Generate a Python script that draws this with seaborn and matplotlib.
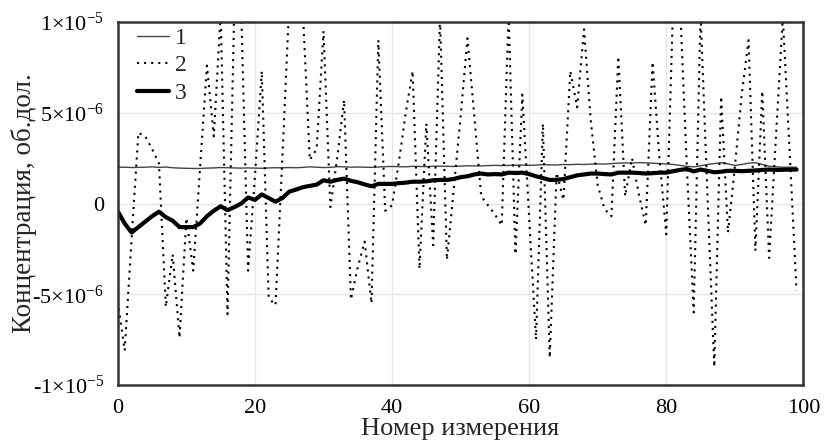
import numpy as np
import pandas as pd
import matplotlib
matplotlib.use("Agg")
import matplotlib.pyplot as plt
import seaborn as sns

# ---- data (values in units of 1e-6) ----
idx = list(range(100))
series1 = [2.00, 2.00, 1.98, 1.99, 2.00, 2.02, 1.99, 2.01, 1.97, 1.95,
           1.94, 1.93, 1.93, 1.95, 1.96, 1.98, 1.97, 1.96, 1.95, 1.96,
           1.95, 1.94, 1.96, 1.97, 1.97, 1.98, 1.97, 1.99, 2.02, 2.00,
           1.98, 1.99, 2.03, 2.02, 2.00, 2.01, 2.00, 1.99, 2.01, 2.03,
           2.04, 2.03, 2.02, 2.05, 2.04, 2.03, 2.05, 2.06, 2.05, 2.04,
           2.06, 2.08, 2.07, 2.07, 2.09, 2.10, 2.09, 2.10, 2.11, 2.12,
           2.10, 2.12, 2.14, 2.13, 2.12, 2.15, 2.14, 2.16, 2.15, 2.17,
           2.18, 2.17, 2.20, 2.22, 2.24, 2.23, 2.25, 2.24, 2.22, 2.20,
           2.18, 2.15, 2.10, 2.05, 2.02, 2.08, 2.15, 2.20, 2.25, 2.18,
           2.10, 2.15, 2.22, 2.25, 2.15, 2.05, 2.02, 2.00, 2.00, 2.00]
series2 = [-5.4, -8.1, -2.0, 3.9, 3.7, 3.0, 2.2, -5.7, -2.8, -7.4,
           -0.8, -3.7, 2.0, 7.6, 3.7, 10.5, -6.1, 11.0, 10.6, -3.7,
           1.5, 7.3, -5.2, -5.6, 2.5, 11.0, 12.0, 10.5, 2.4, 3.0,
           9.5, -0.2, 2.5, 5.7, -5.3, -3.5, -2.1, -5.5, 9.0, -0.4,
           -0.1, 2.3, 5.0, 7.3, -3.6, 4.4, -2.3, 10.3, -3.1, 0.8,
           4.8, 9.1, 4.8, 0.4, -0.1, -0.6, -1.2, 10.5, -2.8, 6.0,
           -0.8, -7.5, 4.4, -8.5, 1.7, 0.2, 7.3, 5.3, 9.6, 4.5,
           1.0, -0.3, -0.7, 8.1, 0.4, 2.5, 0.5, -1.2, 7.8, 2.5,
           -1.7, 11.0, 11.0, 2.0, -6.0, 10.5, 0.5, -9.0, 5.9, -1.6,
           2.0, 6.0, 9.0, -2.6, 6.2, -3.0, 3.7, 10.3, 2.8, -4.8]
series3 = [-0.44, -1.1, -1.6, -1.3, -1.0, -0.7, -0.45, -0.75, -0.95, -1.3,
           -1.3, -1.3, -1.1, -0.7, -0.4, -0.15, -0.37, -0.2, 0.0, 0.33,
           0.2, 0.5, 0.3, 0.1, 0.3, 0.65, 0.77, 0.9, 0.97, 1.04,
           1.28, 1.2, 1.3, 1.37, 1.25, 1.17, 1.05, 0.95, 1.08, 1.08,
           1.08, 1.12, 1.15, 1.2, 1.2, 1.22, 1.28, 1.3, 1.3, 1.35,
           1.45, 1.5, 1.6, 1.65, 1.6, 1.62, 1.6, 1.7, 1.68, 1.7,
           1.62, 1.5, 1.4, 1.3, 1.3, 1.35, 1.45, 1.55, 1.6, 1.65,
           1.65, 1.62, 1.6, 1.7, 1.7, 1.7, 1.68, 1.65, 1.67, 1.7,
           1.7, 1.78, 1.85, 1.9, 1.77, 1.87, 1.8, 1.72, 1.75, 1.8,
           1.8, 1.78, 1.8, 1.82, 1.85, 1.87, 1.85, 1.86, 1.87, 1.87]
series_labels = ["1", "2", "3"]
x_ticks = [0, 20, 40, 60, 80, 100]
y_ticks = [-1e-5, -5e-6, 0, 5e-6, 1e-5]
y_tick_labels = [r"-1×10$^{-5}$", r"-5×10$^{-6}$", "0", r"5×10$^{-6}$", r"1×10$^{-5}$"]
x_label = "Номер измерения"
y_label = "Концентрация, об.дол."

SCALE = 1e-6

sns.set_theme(style="whitegrid")
plt.rcParams["font.family"] = ["Liberation Serif", "DejaVu Serif"]
plt.rcParams["mathtext.fontset"] = "custom"
plt.rcParams["mathtext.rm"] = "Liberation Serif"
plt.rcParams["mathtext.it"] = "Liberation Serif"
plt.rcParams["mathtext.default"] = "regular"

fig = plt.figure(figsize=(8.24, 4.40), dpi=100)
ax = fig.add_axes([0.143, 0.125, 0.832, 0.825])

styles = [
    dict(color="#444444", linewidth=1.0, linestyle="-"),
    dict(color="black", linewidth=1.5, linestyle=(0, (1, 2.4))),
    dict(color="black", linewidth=3.0, linestyle="-"),
]
for vals, lab, st in zip([series1, series2, series3], series_labels, styles):
    df = pd.DataFrame({"x": idx, "y": np.array(vals) * SCALE})
    sns.lineplot(data=df, x="x", y="y", ax=ax, label=lab, **st)

ax.set_xlim(0, 100)
ax.set_ylim(-1e-5, 1e-5)
ax.set_xticks(x_ticks)
ax.set_xticklabels([str(t) for t in x_ticks])
ax.set_yticks(y_ticks)
ax.set_yticklabels(y_tick_labels)
ax.tick_params(axis="both", labelsize=16, length=0, colors="black")
ax.tick_params(axis="x", pad=10)
ax.tick_params(axis="y", pad=10)
ax.set_xlabel(x_label, fontsize=19)
ax.set_ylabel(y_label, fontsize=19.5)
ax.xaxis.set_label_coords(0.5, -0.09)
ax.yaxis.set_label_coords(-0.118, 0.5)

ax.grid(True, color="#e6e6e6", linewidth=1.0)
ax.set_facecolor("white")
for sp in ax.spines.values():
    sp.set_color("#333333")
    sp.set_linewidth(1.8)

leg = ax.legend(loc="upper left", bbox_to_anchor=(0.028, 0.985), frameon=False,
                fontsize=17, handlelength=1.35, handletextpad=0.25,
                labelspacing=0.25, borderaxespad=0.0, borderpad=0.0)

fig.savefig("out.png", dpi=100)
